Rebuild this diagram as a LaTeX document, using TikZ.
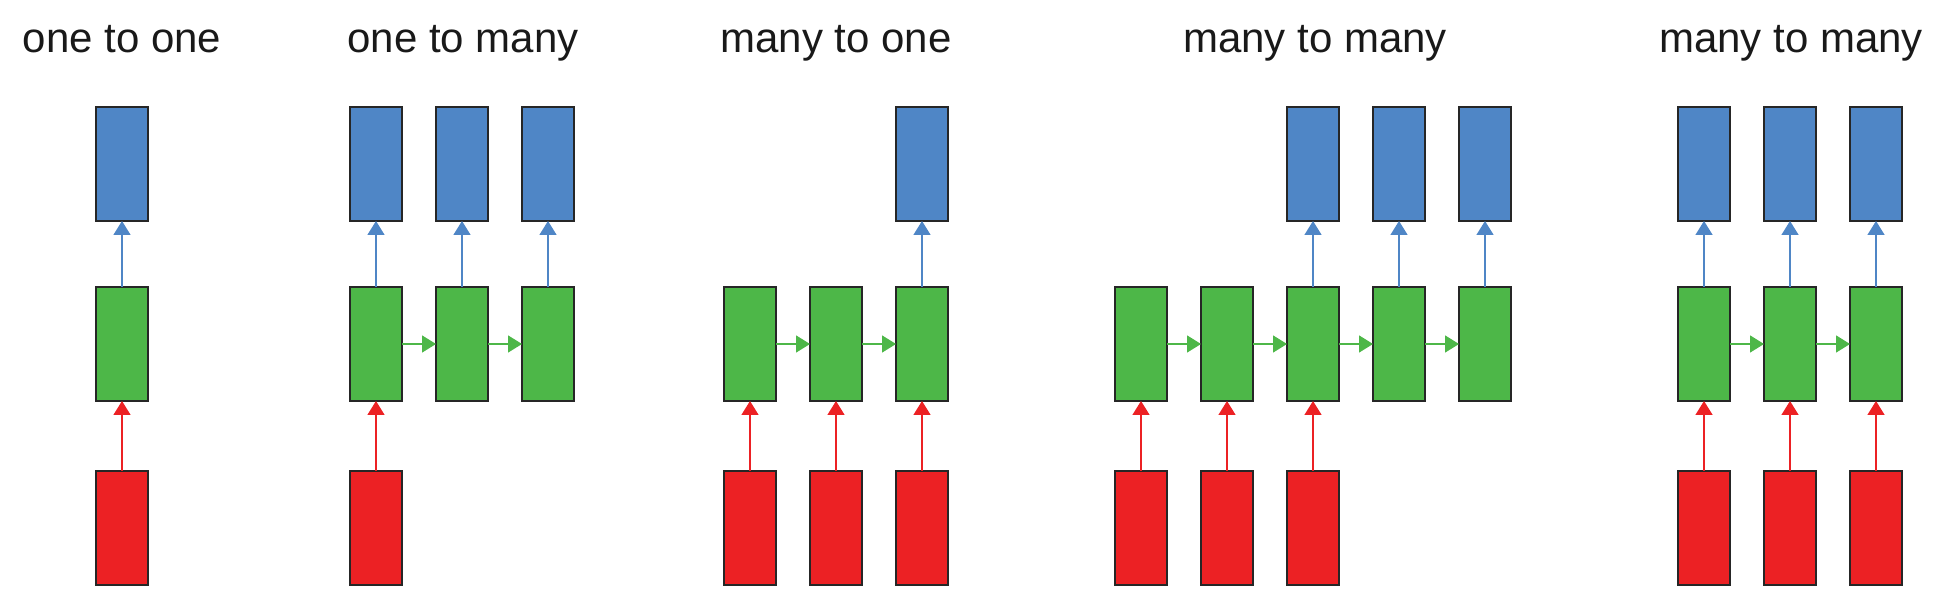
\documentclass[tikz,border=0pt]{standalone}
\usepackage{fontspec}
\setmainfont{Liberation Sans}
\usetikzlibrary{arrows.meta, positioning}
\definecolor{outblue}{RGB}{79,134,198}
\definecolor{hidgreen}{RGB}{77,183,72}
\definecolor{inred}{RGB}{236,33,36}
\tikzset{
  cell/.style={rectangle, draw=black!85, line width=1.6pt, minimum width=52pt, minimum height=114pt, inner sep=0pt, outer sep=0pt},
  outcell/.style={cell, fill=outblue},
  hidcell/.style={cell, fill=hidgreen},
  incell/.style={cell, fill=inred},
  title/.style={anchor=base, font=\fontsize{42}{48}\selectfont, text=black!90},
  outarrow/.style={draw=outblue, line width=1.5pt, -{Triangle[width=17pt,length=14pt]}},
  recarrow/.style={draw=hidgreen, line width=1.5pt, -{Triangle[width=17pt,length=14pt]}},
  inarrow/.style={draw=inred, line width=1.5pt, -{Triangle[width=17pt,length=14pt]}}
}
\begin{document}
\begin{tikzpicture}[x=1pt, y=1pt]
\useasboundingbox (0,0) rectangle (1950,615);

\node [title] (title1) at (122,562) {one to one};
\node [hidcell] (h11) at (122,271) {};
\node [outcell, above=66pt of h11] (o11) {};
\node [incell, below=70pt of h11] (i11) {};
\draw[inarrow] (i11) -- (h11);
\draw[outarrow] (h11) -- (o11);

\node [title] (title2) at (463,562) {one to many};
\node [hidcell] (h21) at (376,271) {};
\node [hidcell, right=34pt of h21] (h22) {};
\node [hidcell, right=34pt of h22] (h23) {};
\node [outcell, above=66pt of h21] (o21) {};
\node [outcell, above=66pt of h22] (o22) {};
\node [outcell, above=66pt of h23] (o23) {};
\node [incell, below=70pt of h21] (i21) {};
\draw[inarrow] (i21) -- (h21);
\draw[recarrow] (h21) -- (h22);
\draw[recarrow] (h22) -- (h23);
\draw[outarrow] (h21) -- (o21);
\draw[outarrow] (h22) -- (o22);
\draw[outarrow] (h23) -- (o23);

\node [title] (title3) at (836,562) {many to one};
\node [hidcell] (h31) at (750,271) {};
\node [hidcell, right=34pt of h31] (h32) {};
\node [hidcell, right=34pt of h32] (h33) {};
\node [outcell, above=66pt of h33] (o33) {};
\node [incell, below=70pt of h31] (i31) {};
\node [incell, below=70pt of h32] (i32) {};
\node [incell, below=70pt of h33] (i33) {};
\draw[inarrow] (i31) -- (h31);
\draw[inarrow] (i32) -- (h32);
\draw[inarrow] (i33) -- (h33);
\draw[recarrow] (h31) -- (h32);
\draw[recarrow] (h32) -- (h33);
\draw[outarrow] (h33) -- (o33);

\node [title] (title4) at (1315,562) {many to many};
\node [hidcell] (h41) at (1141,271) {};
\node [hidcell, right=34pt of h41] (h42) {};
\node [hidcell, right=34pt of h42] (h43) {};
\node [hidcell, right=34pt of h43] (h44) {};
\node [hidcell, right=34pt of h44] (h45) {};
\node [outcell, above=66pt of h43] (o43) {};
\node [outcell, above=66pt of h44] (o44) {};
\node [outcell, above=66pt of h45] (o45) {};
\node [incell, below=70pt of h41] (i41) {};
\node [incell, below=70pt of h42] (i42) {};
\node [incell, below=70pt of h43] (i43) {};
\draw[inarrow] (i41) -- (h41);
\draw[inarrow] (i42) -- (h42);
\draw[inarrow] (i43) -- (h43);
\draw[recarrow] (h41) -- (h42);
\draw[recarrow] (h42) -- (h43);
\draw[recarrow] (h43) -- (h44);
\draw[recarrow] (h44) -- (h45);
\draw[outarrow] (h43) -- (o43);
\draw[outarrow] (h44) -- (o44);
\draw[outarrow] (h45) -- (o45);

\node [title] (title5) at (1791,562) {many to many};
\node [hidcell] (h51) at (1704,271) {};
\node [hidcell, right=34pt of h51] (h52) {};
\node [hidcell, right=34pt of h52] (h53) {};
\node [outcell, above=66pt of h51] (o51) {};
\node [outcell, above=66pt of h52] (o52) {};
\node [outcell, above=66pt of h53] (o53) {};
\node [incell, below=70pt of h51] (i51) {};
\node [incell, below=70pt of h52] (i52) {};
\node [incell, below=70pt of h53] (i53) {};
\draw[inarrow] (i51) -- (h51);
\draw[inarrow] (i52) -- (h52);
\draw[inarrow] (i53) -- (h53);
\draw[recarrow] (h51) -- (h52);
\draw[recarrow] (h52) -- (h53);
\draw[outarrow] (h51) -- (o51);
\draw[outarrow] (h52) -- (o52);
\draw[outarrow] (h53) -- (o53);
\end{tikzpicture}
\end{document}
